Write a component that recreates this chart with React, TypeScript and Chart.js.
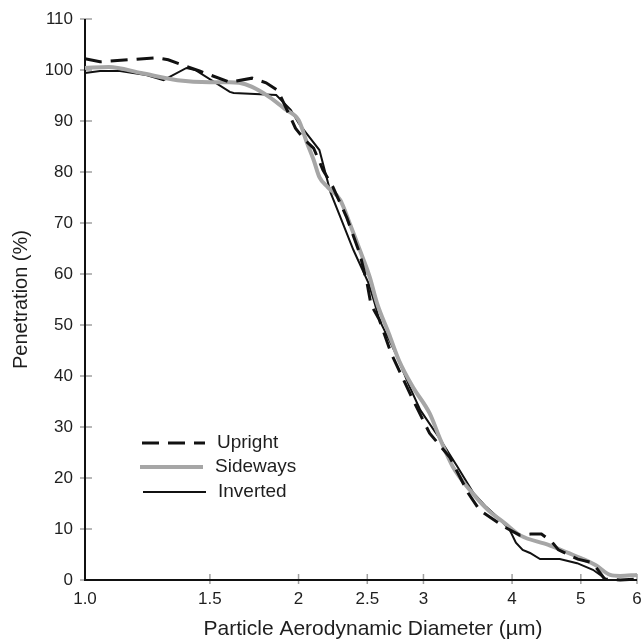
import React, { useEffect, useRef } from "react";
import { Chart, registerables } from "chart.js";

Chart.register(...registerables);

const xTickValues = [1, 1.5, 2, 2.5, 3, 4, 5, 6];
const xTickLabels = ["1.0", "1.5", "2", "2.5", "3", "4", "5", "6"];
const seriesNames = ["Upright", "Sideways", "Inverted"];
const xTitle = "Particle Aerodynamic Diameter (µm)";
const yTitle = "Penetration (%)";

const uprightX = [1.0, 1.05, 1.15, 1.26, 1.31, 1.45, 1.6, 1.72, 1.8, 1.87, 1.95, 1.98, 2.04, 2.1, 2.165, 2.237, 2.34, 2.44, 2.5, 2.53, 2.6, 2.7, 2.9, 3.06, 3.27, 3.47, 3.6, 3.9, 4.1, 4.25, 4.4, 4.55, 4.65, 4.95, 5.15, 5.25, 5.4, 5.68, 6.0];
const uprightY = [102.2, 101.6, 102, 102.4, 102, 99.8, 97.6, 98.4, 97.5, 96, 90.6, 88.6, 86.3, 84.7, 80.4, 77, 71, 64, 58, 54, 51, 44.5, 35.3, 28.8, 24, 17, 13.7, 10.4, 8.8, 9, 9, 7.5, 5.9, 4.1, 3.5, 2.5, 0.2, 0, 0.2];

const sidewaysX = [1.0, 1.08, 1.2, 1.35, 1.5, 1.6, 1.65, 1.72, 1.82, 1.92, 2.0, 2.056, 2.1, 2.14, 2.2, 2.29, 2.36, 2.44, 2.52, 2.58, 2.68, 2.77, 2.9, 3.06, 3.17, 3.3, 3.49, 3.7, 3.9, 4.1, 4.5, 4.8, 5.0, 5.25, 5.5, 5.68, 6.0];
const sidewaysY = [100.4, 100.6, 99.4, 98, 97.6, 97.6, 97.5, 96.7, 94.7, 92.2, 90.2, 85.7, 82.4, 79, 77, 74.5, 70, 64.7, 59.4, 54.3, 48.4, 43.1, 37.8, 32.7, 27.5, 22.2, 17.6, 13.7, 11.2, 8.8, 6.9, 5.3, 4.3, 2.9, 1, 0.8, 1];

const invertedX = [1.0, 1.05, 1.12, 1.22, 1.29, 1.39, 1.43, 1.6, 1.62, 1.86, 1.95, 2.0, 2.06, 2.14, 2.22, 2.29, 2.39, 2.51, 2.56, 2.6, 2.74, 2.87, 2.97, 3.17, 3.35, 3.53, 3.68, 3.85, 3.97, 4.05, 4.14, 4.24, 4.38, 4.67, 4.94, 5.2, 5.45, 6.0];
const invertedY = [99.4, 99.8, 99.8, 99, 98, 100.4, 100, 95.7, 95.5, 95.1, 92.2, 89.6, 87.3, 84.3, 75.9, 71.2, 64.7, 58.2, 54.3, 51, 44.5, 37.8, 33.3, 27.5, 22.2, 17, 14.3, 11.8, 9.8, 7.3, 5.9, 5.3, 4.1, 4.1, 3.3, 2, 0, 0];

const FONT = '"Liberation Sans", Arial, Helvetica, sans-serif';
const TEXT = "#1e1e1e";

const pts = (xs: number[], ys: number[]) => xs.map((x, i) => ({ x, y: ys[i] }));

const decorPlugin = {
  id: "decor",
  beforeDatasetsDraw(chart: any) {
    const { ctx, chartArea, scales } = chart;
    const xs = scales.x;
    const ys = scales.y;
    ctx.save();
    ctx.strokeStyle = "#a0a0a0";
    ctx.lineWidth = 1.5;
    xTickValues.forEach((v) => {
      if (v === 1) return;
      const px = xs.getPixelForValue(v);
      ctx.beginPath();
      ctx.moveTo(px, chartArea.bottom - 6);
      ctx.lineTo(px, chartArea.bottom + 4);
      ctx.stroke();
    });
    ys.ticks.forEach((t: any) => {
      const py = ys.getPixelForValue(t.value);
      ctx.beginPath();
      ctx.moveTo(chartArea.left - 5, py);
      ctx.lineTo(chartArea.left + 7, py);
      ctx.stroke();
    });
    ctx.strokeStyle = "#111";
    ctx.lineWidth = 2;
    ctx.beginPath();
    ctx.moveTo(chartArea.left, chartArea.top);
    ctx.lineTo(chartArea.left, chartArea.bottom);
    ctx.lineTo(chartArea.right, chartArea.bottom);
    ctx.stroke();
    ctx.restore();
  },
  afterDraw(chart: any) {
    const { ctx, chartArea } = chart;
    ctx.save();
    ctx.fillStyle = TEXT;
    ctx.textBaseline = "middle";
    ctx.textAlign = "center";
    ctx.font = `21px ${FONT}`;
    ctx.fillText(xTitle, 373, 629);
    ctx.font = `20px ${FONT}`;
    ctx.save();
    ctx.translate(21, (chartArea.top + chartArea.bottom) / 2);
    ctx.rotate(-Math.PI / 2);
    ctx.fillText(yTitle, 0, 0);
    ctx.restore();

    // legend
    const rows = [443, 467, 492];
    const lineX0 = [142, 140, 143];
    const lineX1 = [205, 203, 206];
    const textX = [217, 215, 218];
    chart.data.datasets.forEach((ds: any, i: number) => {
      ctx.save();
      ctx.strokeStyle = ds.borderColor;
      ctx.lineWidth = ds.borderWidth;
      ctx.setLineDash(ds.borderDash || []);
      ctx.beginPath();
      ctx.moveTo(lineX0[i], rows[i]);
      ctx.lineTo(lineX1[i], rows[i]);
      ctx.stroke();
      ctx.restore();
      ctx.font = `19px ${FONT}`;
      ctx.textAlign = "left";
      ctx.fillStyle = TEXT;
      ctx.fillText(seriesNames[i], textX[i], rows[i]);
    });
    ctx.restore();
  },
};

export default function App() {
  const ref = useRef<HTMLCanvasElement | null>(null);
  useEffect(() => {
    if (!ref.current) return;
    const chart = new Chart(ref.current, {
      type: "line",
      data: {
        datasets: [
          {
            label: seriesNames[0],
            data: pts(uprightX, uprightY),
            borderColor: "#111111",
            borderWidth: 3,
            borderDash: [17, 9],
            pointRadius: 0,
            tension: 0,
            clip: false as any,
          },
          {
            label: seriesNames[1],
            data: pts(sidewaysX, sidewaysY),
            borderColor: "#a6a6a6",
            borderWidth: 4,
            pointRadius: 0,
            tension: 0.35,
            cubicInterpolationMode: "monotone",
            clip: false as any,
          },
          {
            label: seriesNames[2],
            data: pts(invertedX, invertedY),
            borderColor: "#111111",
            borderWidth: 2,
            pointRadius: 0,
            tension: 0,
            clip: false as any,
          },
        ],
      },
      options: {
        animation: false,
        responsive: false,
        layout: { padding: { top: 19, right: 5, left: 0, bottom: 0 } },
        plugins: { legend: { display: false }, tooltip: { enabled: false } },
        scales: {
          x: {
            type: "logarithmic",
            min: 1,
            max: 6,
            afterBuildTicks: (scale: any) => {
              scale.ticks = xTickValues.map((v) => ({ value: v }));
            },
            afterFit: (scale: any) => {
              scale.height = 62;
              scale.paddingLeft = 0;
              scale.paddingRight = 0;
            },
            grid: { display: false, drawTicks: false },
            border: { display: false },
            ticks: {
              autoSkip: false,
              maxRotation: 0,
              padding: 9,
              color: TEXT,
              font: { family: FONT, size: 17 },
              callback: (_v: any, i: number) => xTickLabels[i],
            },
          },
          y: {
            type: "linear",
            min: 0,
            max: 110,
            afterFit: (scale: any) => {
              scale.width = 85;
              scale.paddingTop = 0;
              scale.paddingBottom = 0;
            },
            grid: { display: false, drawTicks: false },
            border: { display: false },
            ticks: {
              stepSize: 10,
              padding: 12,
              color: TEXT,
              font: { family: FONT, size: 17 },
            },
          },
        },
      },
      plugins: [decorPlugin],
    });
    return () => chart.destroy();
  }, []);
  return (
    <div style={{ position: "fixed", left: 0, top: 0, width: 642, height: 642, background: "#fff" }}>
      <canvas ref={ref} width={642} height={642} style={{ width: 642, height: 642 }} />
    </div>
  );
}
